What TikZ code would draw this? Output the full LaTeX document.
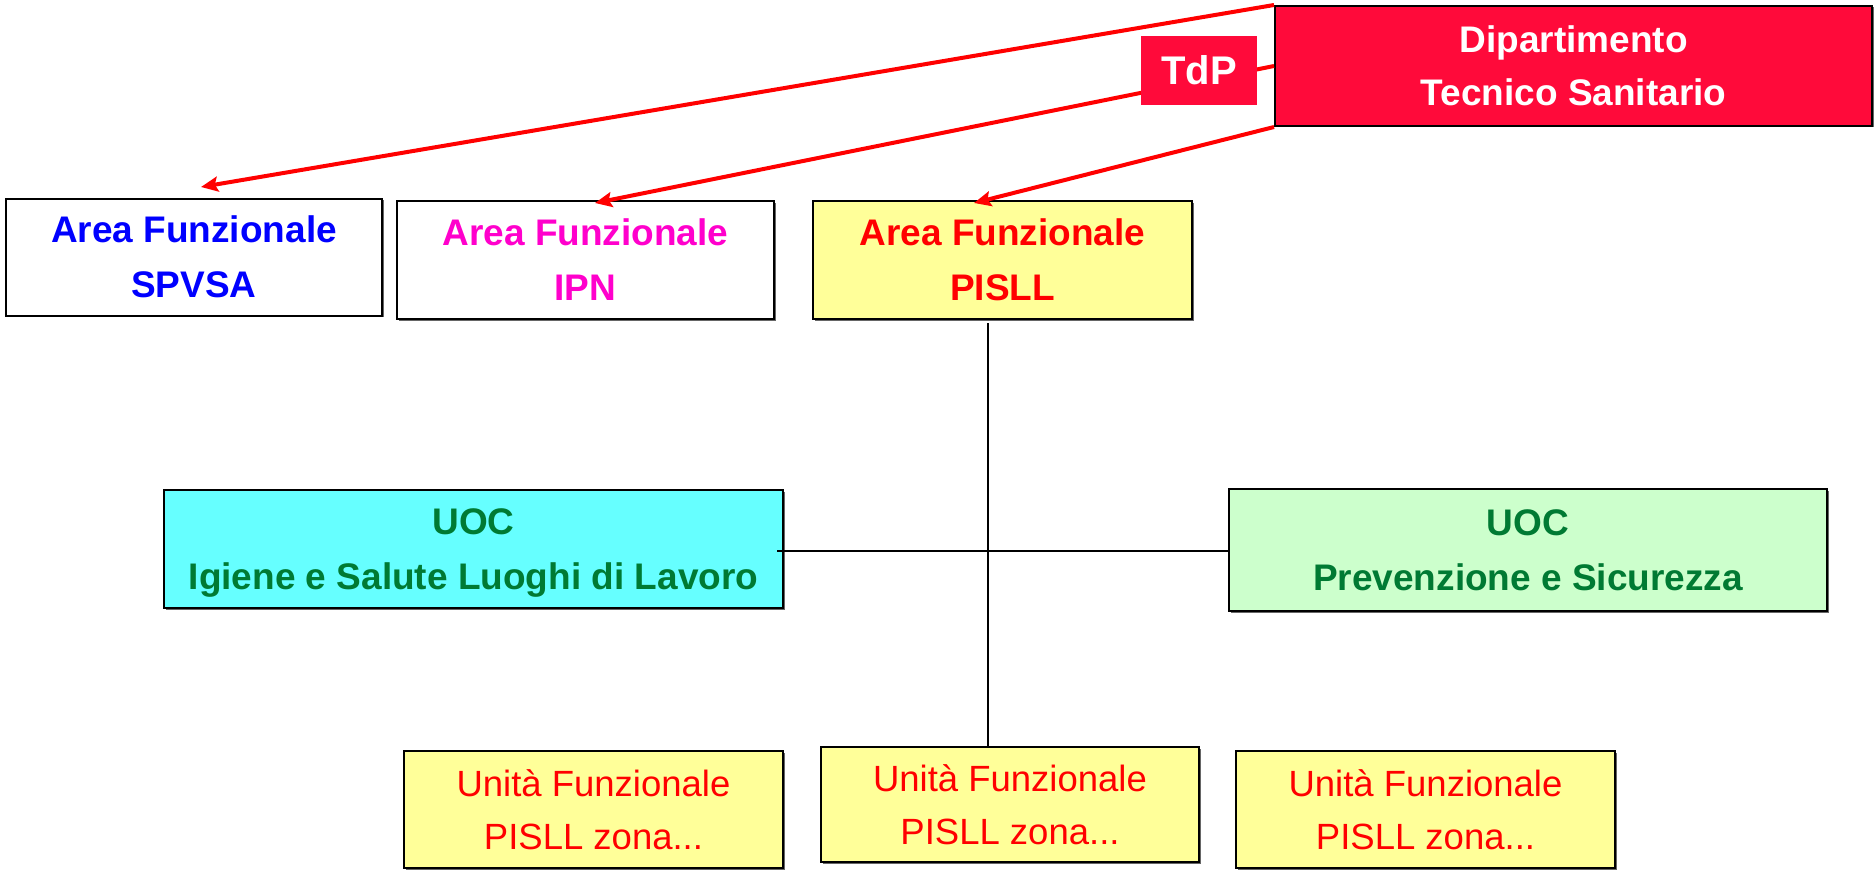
\documentclass[tikz,border=0pt]{standalone}
\usepackage{fontspec}
\setmainfont{Liberation Sans}
\usetikzlibrary{arrows.meta,shadows}
\definecolor{dipred}{RGB}{255,10,58}
\definecolor{txtblue}{RGB}{0,0,255}
\definecolor{txtmag}{RGB}{255,0,204}
\definecolor{txtred}{RGB}{255,0,0}
\definecolor{txtgreen}{RGB}{0,122,51}
\definecolor{fillyel}{RGB}{255,255,153}
\definecolor{fillcyan}{RGB}{102,255,255}
\definecolor{fillgreen}{RGB}{204,255,204}
\begin{document}
\begin{tikzpicture}[x=1pt,y=-1pt,
  box/.style={draw=black,line width=2pt,inner sep=0pt,align=center,
    drop shadow={shadow xshift=1.5pt,shadow yshift=-1.5pt,fill=black,opacity=0.6}},
  bigtxt/.style={font=\fontsize{37}{55}\selectfont\bfseries},
  uftxt/.style={font=\fontsize{36.5}{53}\selectfont, text=txtred},
  redarrow/.style={draw=txtred,line width=4pt,-{Stealth[length=17pt,width=15pt,inset=3pt]}},
  link/.style={draw=black,line width=2pt}]
\useasboundingbox (0,0) rectangle (1874,872);

% top department
\node[box,fill=dipred,text=white,font=\fontsize{37}{53}\selectfont\bfseries,
  minimum width=597pt,minimum height=120pt] (dip) at (1573.5,66) {Dipartimento\\Tecnico Sanitario};

% area boxes
\node[box,fill=white,text=txtblue,bigtxt,minimum width=376pt,minimum height=117pt] (spvsa) at (194,257) {Area Funzionale\\SPVSA};
\node[box,fill=white,text=txtmag,bigtxt,minimum width=377pt,minimum height=118pt] (ipn) at (585.5,260) {Area Funzionale\\IPN};
\node[box,fill=fillyel,text=txtred,bigtxt,minimum width=379pt,minimum height=118pt] (pisll) at (1002.5,260) {Area Funzionale\\PISLL};

% UOC boxes
\node[box,fill=fillcyan,text=txtgreen,bigtxt,minimum width=619pt,minimum height=118pt] (igiene) at (473.5,549) {UOC\\\smash{Igiene e Salute Luoghi di Lavoro}};
\node[box,fill=fillgreen,text=txtgreen,bigtxt,minimum width=598pt,minimum height=122pt] (prev) at (1528,550) {UOC\\Prevenzione e Sicurezza};

% unit boxes
\node[box,fill=fillyel,uftxt,minimum width=379pt,minimum height=117pt] (uf1) at (593.5,809.5) {Unità Funzionale\\PISLL zona...};
\node[box,fill=fillyel,uftxt,minimum width=378pt,minimum height=115pt] (uf2) at (1010,804.5) {Unità Funzionale\\PISLL zona...};
\node[box,fill=fillyel,uftxt,minimum width=379pt,minimum height=117pt] (uf3) at (1425.5,809.5) {Unità Funzionale\\PISLL zona...};

% black connectors
\coordinate (vtop) at (988,323);
\draw[link] (vtop) -- (vtop |- uf2.north);
\coordinate (hl) at (777,551);
\draw[link] (hl) -- (hl -| prev.west);

% red arrows
\coordinate (t1) at (201,187);
\coordinate (t2) at (595,203);
\coordinate (t3) at (974,203);
\draw[redarrow] (dip.north west) -- (t1);
\draw[redarrow] (dip.west) -- (t2);
\draw[redarrow] (dip.south west) -- (t3);

% TdP label over the middle arrow
\node[fill=dipred,text=white,inner sep=0pt,minimum width=116pt,minimum height=69pt,
  font=\fontsize{40}{48}\selectfont\bfseries] (tdp) at (1199,70.5) {TdP};
\end{tikzpicture}
\end{document}
